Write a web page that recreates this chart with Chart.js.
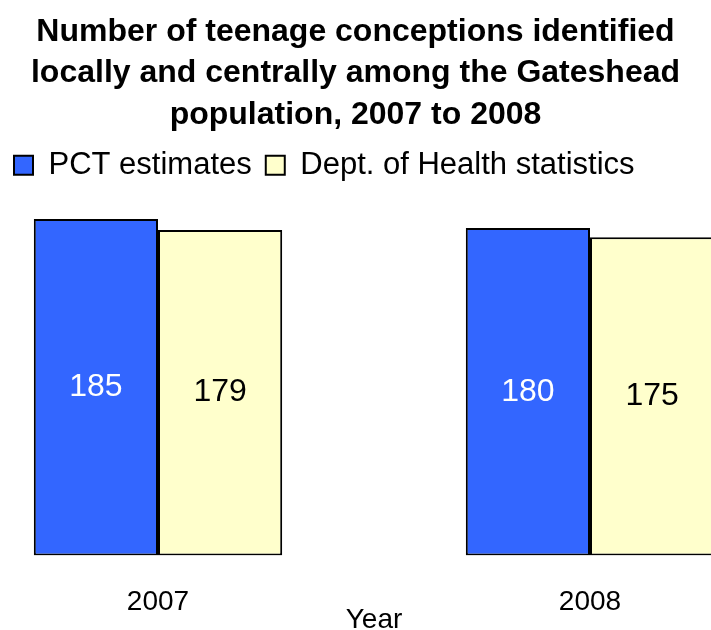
<!DOCTYPE html>
<html>
<head>
<meta charset="utf-8">
<script src="https://cdn.jsdelivr.net/npm/chart.js@4.4.0/dist/chart.umd.min.js"></script>
<style>
  html, body { margin: 0; padding: 0; background: #fff; overflow: hidden; }
  #wrap { position: relative; width: 711px; height: 630px; }
</style>
</head>
<body>
<div id="wrap"><canvas id="c" width="711" height="630"></canvas></div>
<script>
// ---- data ----
const categories = ['2007', '2008'];
const pctEstimates = [185, 180];
const dohStatistics = [179, 175];
const seriesNames = ['PCT estimates', 'Dept. of Health statistics'];
const titleLines = ['Number of teenage conceptions identified', 'locally and centrally among the Gateshead', 'population, 2007 to 2008'];
const axisTitle = 'Year';

const FONT = '"Liberation Sans", Arial, sans-serif';

const toPoints = vals => vals.map((v, i) => ({ x: i, y: v }));

const valueLabels = {
  id: 'valueLabels',
  afterDatasetsDraw(chart) {
    const ctx = chart.ctx;
    ctx.save();
    ctx.font = '32px ' + FONT;
    ctx.textAlign = 'center';
    ctx.textBaseline = 'middle';
    chart.data.datasets.forEach((ds, di) => {
      const meta = chart.getDatasetMeta(di);
      meta.data.forEach((bar, i) => {
        const cy = (bar.y + bar.base) / 2;
        ctx.fillStyle = di === 0 ? '#ffffff' : '#000000';
        ctx.fillText(String(ds.data[i].y), bar.x, cy);
      });
    });
    ctx.restore();
  }
};

const yearTitle = {
  id: 'yearTitle',
  afterDraw(chart) {
    const xs = chart.scales.x;
    const ctx = chart.ctx;
    const cx = (xs.getPixelForValue(0) + xs.getPixelForValue(categories.length - 1)) / 2;
    ctx.save();
    ctx.font = '28px ' + FONT;
    ctx.fillStyle = '#000';
    ctx.textAlign = 'center';
    ctx.textBaseline = 'alphabetic';
    ctx.fillText(axisTitle, cx, 628);
    ctx.restore();
  }
};

new Chart(document.getElementById('c'), {
  type: 'bar',
  data: {
    datasets: [
      { label: seriesNames[0], data: toPoints(pctEstimates), backgroundColor: '#3366FF', borderColor: '#000', borderWidth: 2, borderSkipped: false },
      { label: seriesNames[1], data: toPoints(dohStatistics), backgroundColor: '#FFFFCC', borderColor: '#000', borderWidth: 2, borderSkipped: false }
    ]
  },
  options: {
    responsive: false,
    animation: false,
    devicePixelRatio: 1,
    categoryPercentage: 0.575,
    barPercentage: 1,
    layout: { padding: { left: 0, right: 0, top: 11, bottom: -19 } },
    plugins: {
      title: {
        display: true,
        text: titleLines,
        color: '#000',
        font: { family: FONT, size: 32, weight: 'bold', lineHeight: 1.3 },
        padding: { top: 0, bottom: 0 }
      },
      legend: {
        display: true,
        align: 'start',
        labels: {
          color: '#000',
          font: { family: FONT, size: 31 },
          boxWidth: 19,
          boxHeight: 19,
          padding: 14
        }
      },
      tooltip: { enabled: false }
    },
    scales: {
      x: {
        type: 'linear',
        offset: false,
        min: -0.36574,
        max: 1.28009,
        grid: { display: false, drawTicks: false },
        border: { display: false },
        afterBuildTicks(scale) { scale.ticks = categories.map((c, i) => ({ value: i })); },
        ticks: {
          color: '#000',
          font: { family: FONT, size: 28 },
          padding: 30,
          callback: (v) => categories[v]
        }
      },
      y: {
        display: false,
        min: 0,
        max: 200.5
      }
    }
  },
  plugins: [valueLabels, yearTitle]
});
</script>
</body>
</html>
